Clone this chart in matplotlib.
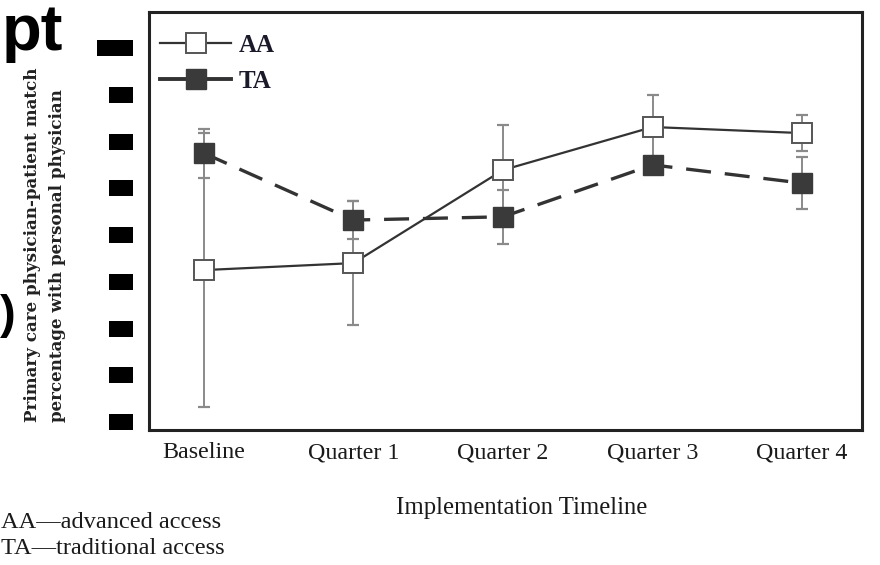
import matplotlib
matplotlib.use("Agg")
import matplotlib.pyplot as plt
from matplotlib.lines import Line2D
from matplotlib.patches import Rectangle
from matplotlib.transforms import blended_transform_factory

# --- data -------------------------------------------------------------
periods = ["Baseline", "Quarter 1", "Quarter 2", "Quarter 3", "Quarter 4"]
aa_values = [52.5, 54.0, 73.9, 83.1, 81.8]
aa_errors = [29.3, 13.3, 9.6, 6.8, 3.9]
ta_values = [77.5, 63.2, 63.9, 75.0, 71.1]
ta_errors = [5.2, 4.1, 5.8, 1.7, 5.6]
y_ticks = [20, 30, 40, 50, 60, 70, 80, 90, 100]
y_tick_labels = [str(v) for v in y_ticks]

W, H = 880, 565
plt.rcParams["lines.scale_dashes"] = False
fig = plt.figure(figsize=(W / 100, H / 100), dpi=100)
fig.patch.set_facecolor("white")

left, right, top, bottom = 149, 862, 12, 430
ax = fig.add_axes([left / W, 1 - bottom / H, (right - left) / W, (bottom - top) / H])

x = list(range(len(periods)))
line_col = "#333333"
err_col = "#8a8a8a"
msize = 14

# error bars
ax.errorbar(x, aa_values, yerr=aa_errors, fmt="none", ecolor=err_col,
            elinewidth=1.4, capsize=4.5, capthick=1.6, zorder=2)
ax.errorbar(x, ta_values, yerr=ta_errors, fmt="none", ecolor=err_col,
            elinewidth=1.4, capsize=4.5, capthick=1.6, zorder=2)

# series lines and markers
ax.plot(x, ta_values, color=line_col, lw=2.4, dashes=(18, 10),
        marker="s", markersize=msize, markerfacecolor="#3a3a3a",
        markeredgecolor="#3a3a3a", zorder=3)
ax.plot(x, aa_values, color=line_col, lw=1.6, linestyle="-",
        marker="s", markersize=msize, markerfacecolor="white",
        markeredgecolor="#555555", markeredgewidth=1.4, zorder=4)

ax.set_xlim(-0.367, 4.4)
ax.set_ylim(18.3, 107.7)
ax.set_xticks(x)
ax.set_xticklabels(periods, family="Liberation Serif", fontsize=17.3, color="#1a1a1a")
ax.set_yticks(y_ticks)
ax.set_yticklabels([])
ax.tick_params(axis="both", length=0)
ax.tick_params(axis="x", pad=9)
for sp in ax.spines.values():
    sp.set_linewidth(2.2)
    sp.set_color("#222222")

# y tick labels rendered as solid blocks
trans = blended_transform_factory(fig.transFigure, ax.transData)
px_per_unit = (bottom - top) / (107.7 - 18.3)
block_h = 16 / px_per_unit
for v, lab in zip(y_ticks, y_tick_labels):
    w = 12 * len(lab)
    ax.add_artist(Rectangle(((133 - w) / W, v - block_h / 2), w / W, block_h,
                            transform=trans, facecolor="black", edgecolor="none",
                            clip_on=False))

# legend
handles = [
    Line2D([], [], color=line_col, lw=1.6, marker="s", markersize=msize,
           markerfacecolor="white", markeredgecolor="#555555", markeredgewidth=1.4),
    Line2D([], [], color=line_col, lw=2.8, marker="s", markersize=msize,
           markerfacecolor="#3a3a3a", markeredgecolor="#3a3a3a"),
]
leg = ax.legend(handles, ["AA", "TA"], loc="upper left",
                bbox_to_anchor=(150 / W, 1 - 24 / H), bbox_transform=fig.transFigure,
                frameon=False, handlelength=2.85, handletextpad=0.3,
                labelspacing=0.5, borderaxespad=0,
                prop={"family": "Liberation Serif", "weight": "bold", "size": 18})
for t in leg.get_texts():
    t.set_color("#1a1a2a")

# axis titles
fig.text(522 / W, 1 - 508 / H, "Implementation Timeline", ha="center", va="center",
         family="Liberation Serif", fontsize=17.8, color="#1a1a1a")
fig.text(45 / W, 1 - 422 / H,
         "Primary care physician-patient match\npercentage with personal physician",
         rotation=90, ha="center", va="bottom", multialignment="left",
         family="DejaVu Serif", fontsize=12.1, weight="bold", linespacing=1.55,
         color="#222222")

# footnote
fig.text(1 / W, 1 - 523 / H, "AA\u2014advanced access", ha="left", va="center",
         family="Liberation Serif", fontsize=17.6, color="#1a1a1a")
fig.text(1 / W, 1 - 549 / H, "TA\u2014traditional access", ha="left", va="center",
         family="Liberation Serif", fontsize=17.6, color="#1a1a1a")

# fragments of surrounding slide text
fig.text(2 / W, 1 - 50 / H, "pt", ha="left", va="baseline",
         family="Liberation Sans", weight="bold", fontsize=47, color="black")
fig.text(0 / W, 1 - 316 / H, ")", ha="left", va="center",
         family="Liberation Sans", weight="bold", fontsize=34, color="black")

fig.savefig("out.png", dpi=100, facecolor="white")
